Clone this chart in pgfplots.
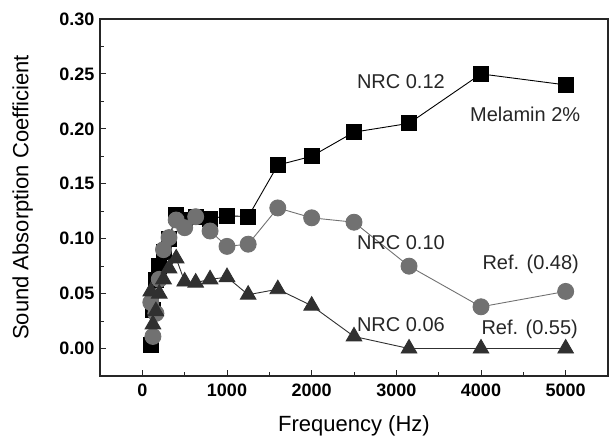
\documentclass[border=0pt]{standalone}
\usepackage{pgfplots}
\pgfplotsset{compat=1.18}
\usepackage{fontspec}
\setmainfont{Liberation Sans}

\definecolor{circgray}{HTML}{717171}
\definecolor{trigray}{HTML}{303030}

\begin{document}
\begin{tikzpicture}
\path[use as bounding box] (-100pt,-63pt) rectangle (510pt,376pt);
\begin{axis}[
    scale only axis,
    width=508pt, height=357pt,
    xmin=-500, xmax=5500,
    ymin=-0.025, ymax=0.30,
    xtick={0,1000,2000,3000,4000,5000},
    ytick={0,0.05,0.10,0.15,0.20,0.25,0.30},
    minor x tick num=1, minor y tick num=1,
    xtick pos=bottom, ytick pos=left,
    tick align=inside,
    major tick length=6pt, minor tick length=4pt,
    axis line style={line width=1.2pt, black!85},
    every tick/.style={line width=1pt, black!85},
    tick label style={font=\fontsize{18}{20}\selectfont\bfseries},
    /pgf/number format/assume math mode=true,
    xticklabel style={/pgf/number format/1000 sep={}, yshift=-4pt},
    yticklabel style={/pgf/number format/fixed, /pgf/number format/fixed zerofill, /pgf/number format/precision=2, xshift=-2pt},
    xlabel={Frequency (Hz)},
    ylabel={Sound Absorption Coefficient},
    label style={font=\fontsize{22}{26}\selectfont},
    xlabel style={at={(axis description cs:0.5,-0.14)}, anchor=center},
    ylabel style={at={(axis description cs:-0.152,0.5)}, anchor=center},
    clip=false,
]
% Melamin 2%
\addplot[black, line width=0.9pt, mark=square*, mark size=7.5pt, mark options={solid, fill=black}] coordinates {
    (100,0.003) (125,0.035) (160,0.062) (200,0.075) (250,0.088) (315,0.100)
    (400,0.122) (500,0.117) (630,0.120) (800,0.118) (1000,0.121) (1250,0.120)
    (1600,0.167) (2000,0.175) (2500,0.197) (3150,0.205) (4000,0.250) (5000,0.240)
};
% Ref. (0.48)
\addplot[circgray, line width=0.9pt, mark=*, mark size=8pt, mark options={solid, fill=circgray, draw=circgray}] coordinates {
    (100,0.042) (125,0.011) (160,0.032) (200,0.063) (250,0.090) (315,0.101)
    (400,0.117) (500,0.110) (630,0.120) (800,0.107) (1000,0.093) (1250,0.095)
    (1600,0.128) (2000,0.119) (2500,0.115) (3150,0.075) (4000,0.038) (5000,0.052)
};
% Ref. (0.55)
\addplot[trigray, line width=0.9pt, mark=triangle*, mark size=9pt, mark options={solid, fill=trigray, draw=trigray}] coordinates {
    (100,0.052) (125,0.022) (160,0.034) (200,0.050) (250,0.063) (315,0.073)
    (400,0.082) (500,0.061) (630,0.060) (800,0.063) (1000,0.065) (1250,0.049)
    (1600,0.054) (2000,0.039) (2500,0.011) (3150,0.000) (4000,0.000) (5000,0.000)
};
\begin{scope}[every node/.style={font=\fontsize{20}{24}\selectfont, text=black!85, inner sep=0pt}]
\node at (axis cs:3054,0.243) {NRC 0.12};
\node at (axis cs:4522,0.213) {Melamin 2\%};
\node at (axis cs:3054,0.0966) {NRC 0.10};
\node at (axis cs:4587,0.0764) {Ref. (0.48)};
\node at (axis cs:3054,0.0218) {NRC 0.06};
\node at (axis cs:4575,0.0173) {Ref. (0.55)};
\end{scope}
\end{axis}
\end{tikzpicture}
\end{document}
